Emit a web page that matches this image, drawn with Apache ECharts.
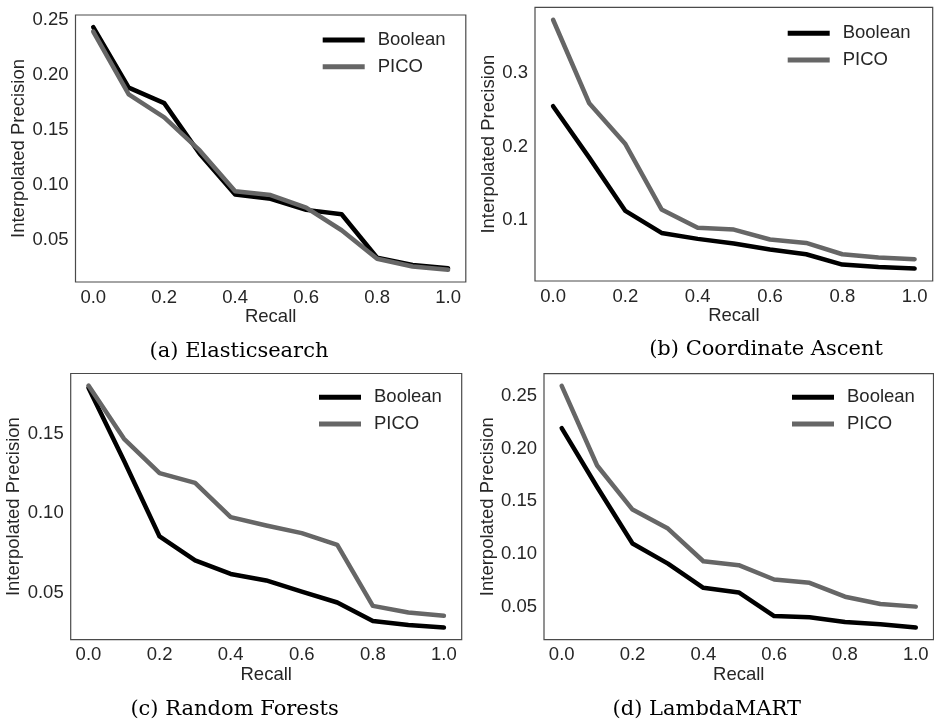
<!DOCTYPE html>
<html>
<head>
<meta charset="utf-8">
<script src="https://cdn.jsdelivr.net/npm/echarts@6/dist/echarts.min.js"></script>
<style>
html,body{margin:0;padding:0;background:#fff;}
#chart{width:934px;height:726px;}
</style>
</head>
<body>
<div id="chart"></div>
<script>
// ---- data ----
const recall = [0.0, 0.1, 0.2, 0.3, 0.4, 0.5, 0.6, 0.7, 0.8, 0.9, 1.0];
const xTicks = [0.0, 0.2, 0.4, 0.6, 0.8, 1.0];
const seriesNames = ['Boolean', 'PICO'];

const esBoolean = [0.243, 0.188, 0.174, 0.128, 0.091, 0.087, 0.077, 0.073, 0.0335, 0.027, 0.024];
const esPico    = [0.239, 0.182, 0.161, 0.131, 0.094, 0.0905, 0.079, 0.0585, 0.0326, 0.0256, 0.0225];
const esYTicks  = [0.05, 0.10, 0.15, 0.20, 0.25];

const caBoolean = [0.255, 0.185, 0.1125, 0.0825, 0.0744, 0.068, 0.060, 0.0535, 0.0394, 0.036, 0.034];
const caPico    = [0.3727, 0.259, 0.2035, 0.1145, 0.0894, 0.0871, 0.0735, 0.0689, 0.0535, 0.049, 0.0467];
const caYTicks  = [0.1, 0.2, 0.3];

const rfBoolean = [0.179, 0.133, 0.0853, 0.0702, 0.0617, 0.0576, 0.0506, 0.0437, 0.0321, 0.0296, 0.0279];
const rfPico    = [0.1803, 0.1468, 0.1252, 0.119, 0.0975, 0.0922, 0.0874, 0.080, 0.0416, 0.0374, 0.0353];
const rfYTicks  = [0.05, 0.10, 0.15];

const lmBoolean = [0.2192, 0.1634, 0.1098, 0.0908, 0.0678, 0.0634, 0.0411, 0.0399, 0.0355, 0.0333, 0.0301];
const lmPico    = [0.2594, 0.1838, 0.142, 0.124, 0.093, 0.0893, 0.0757, 0.0726, 0.0594, 0.0525, 0.050];
const lmYTicks  = [0.05, 0.10, 0.15, 0.20, 0.25];

const captions = ['(a) Elasticsearch', '(b) Coordinate Ascent', '(c) Random Forests', '(d) LambdaMART'];

// ---- layout / style ----
const panels = [
  {b: esBoolean, p: esPico, yt: esYTicks, dec: 2, grid: {left: 75.5, top: 15, width: 390.3, height: 267},
   legend: {left: 322.7, top: 30}, yGap: 45, cap: {x: 239, y: 352}},
  {b: caBoolean, p: caPico, yt: caYTicks, dec: 1, grid: {left: 535, top: 7.3, width: 397.7, height: 273.7},
   legend: {left: 787.7, top: 23.3}, yGap: 37, cap: {x: 766, y: 350}},
  {b: rfBoolean, p: rfPico, yt: rfYTicks, dec: 2, grid: {left: 70.7, top: 373.5, width: 391, height: 266.2},
   legend: {left: 319, top: 387.3}, yGap: 46, cap: {x: 234.6, y: 709.7}},
  {b: lmBoolean, p: lmPico, yt: lmYTicks, dec: 2, grid: {left: 544, top: 373.7, width: 389.5, height: 266},
   legend: {left: 792, top: 387.3}, yGap: 46, cap: {x: 706.7, y: 709.7}}
];

const textColor = '#262626';
const sans = '"Liberation Sans", Arial, sans-serif';
const colors = {Boolean: '#000000', PICO: '#666666'};

const grids = [], xAxes = [], yAxes = [], series = [], legends = [], graphics = [];

panels.forEach((pn, i) => {
  grids.push(Object.assign({show: true, borderColor: '#4a4a4a', borderWidth: 1.2, backgroundColor: 'transparent'}, pn.grid));
  const all = pn.b.concat(pn.p);
  const dmin = Math.min.apply(null, all), dmax = Math.max.apply(null, all);
  const rng = dmax - dmin;
  xAxes.push({
    type: 'value', gridIndex: i, min: -0.05, max: 1.05,
    name: 'Recall', nameLocation: 'middle', nameGap: 24,
    nameTextStyle: {fontSize: 18.5, color: textColor, fontFamily: sans},
    axisLine: {show: false}, axisTick: {show: false}, splitLine: {show: false},
    axisLabel: {customValues: xTicks, margin: 6, fontSize: 18.5, color: textColor, fontFamily: sans,
      formatter: v => v.toFixed(1)}
  });
  yAxes.push({
    type: 'value', gridIndex: i, min: dmin - 0.05 * rng, max: dmax + 0.05 * rng,
    name: 'Interpolated Precision', nameLocation: 'middle', nameGap: pn.yGap,
    nameTextStyle: {fontSize: 18.5, color: textColor, fontFamily: sans},
    axisLine: {show: false}, axisTick: {show: false}, splitLine: {show: false},
    axisLabel: {customValues: pn.yt, margin: 7, fontSize: 18.5, color: textColor, fontFamily: sans,
      formatter: v => v.toFixed(pn.dec)}
  });
  [['Boolean', pn.b], ['PICO', pn.p]].forEach(([nm, vals]) => {
    series.push({
      type: 'line', name: nm, xAxisIndex: i, yAxisIndex: i,
      data: recall.map((r, k) => [r, vals[k]]),
      showSymbol: false, symbol: 'none', color: colors[nm],
      itemStyle: {color: colors[nm]},
      lineStyle: {width: 4.5, color: colors[nm], cap: 'round', join: 'round'},
      animation: false
    });
  });
  legends.push({
    data: seriesNames, orient: 'vertical', left: pn.legend.left, top: pn.legend.top,
    icon: 'rect', itemWidth: 42, itemHeight: 5, itemGap: 6.7, padding: 0,
    selectedMode: false,
    textStyle: {fontSize: 18.5, color: textColor, fontFamily: sans, lineHeight: 20, padding: [0, 0, 0, 8]}
  });
  graphics.push({
    type: 'text', x: pn.cap.x, y: pn.cap.y,
    style: {text: captions[i], fill: '#000', font: '21px "DejaVu Serif", serif',
      textAlign: 'center', textVerticalAlign: 'middle'}
  });
});

const chart = echarts.init(document.getElementById('chart'));
chart.setOption({
  animation: false,
  backgroundColor: '#fff',
  grid: grids, xAxis: xAxes, yAxis: yAxes, series: series,
  legend: legends, graphic: graphics
});
</script>
</body>
</html>
